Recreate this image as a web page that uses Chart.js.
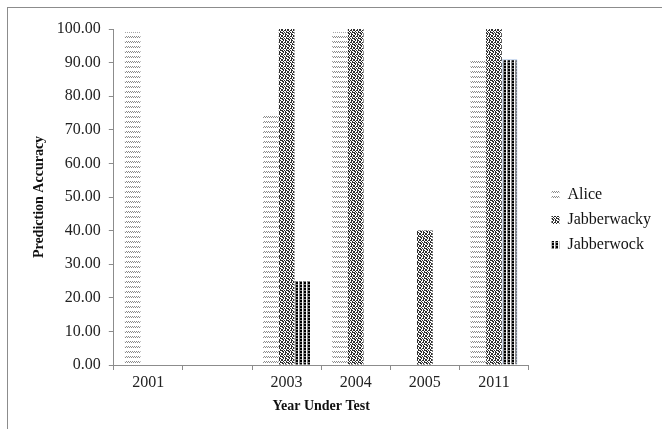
<!DOCTYPE html>
<html>
<head>
<meta charset="utf-8">
<script src="https://cdn.jsdelivr.net/npm/chart.js@4/dist/chart.umd.min.js"></script>
<style>
  html, body { margin: 0; padding: 0; background: #fff; }
  #moldura { position: absolute; left: 7px; top: 7px; width: 700px; height: 500px; border-left: 1px solid #8c8c8c; border-top: 1px solid #8c8c8c; }
  #caixa { position: absolute; left: 0; top: 0; width: 662px; height: 429px; }
</style>
</head>
<body>
<div id="moldura"></div>
<div id="caixa"><canvas id="grafico"></canvas></div>
<script>
// Dados (a segunda categoria fica vazia)
const anos = ['2001', '', '2003', '2004', '2005', '2011'];
const alice = [99, null, 75, 99, null, 91];
const jabberwacky = [null, null, 100, 100, 40, 100];
const jabberwock = [null, null, 25, null, null, 91];

const ctx = document.getElementById('grafico').getContext('2d');

// Monta um padrão de hachura a partir de linhas de texto
function padrao(linhas, cores) {
  const c = document.createElement('canvas');
  c.width = linhas[0].length;
  c.height = linhas.length;
  const g = c.getContext('2d');
  g.fillStyle = '#fff';
  g.fillRect(0, 0, c.width, c.height);
  linhas.forEach((linha, y) => {
    [...linha].forEach((ch, x) => {
      if (cores[ch]) {
        g.fillStyle = cores[ch];
        g.fillRect(x, y, 1, 1);
      }
    });
  });
  return ctx.createPattern(c, 'repeat');
}

const padraoAlice = padrao([
  '....',
  'x.x.',
  '.x.x',
  '....',
  '....'
], { x: '#8a8a8a' });

const padraoWacky = padrao([
  'x.xx.x',
  '.x..x.',
  'x.x.xx',
  'xx.x..',
  '.x.xx.',
  'x..x.x'
], { x: '#2e2e2e' });

const padraoWock = padrao([
  'kkwg',
  'kkwg',
  'ggwg'
], { k: '#000', g: '#8a8a8a', w: '#fff' });

// Empurra a legenda um pouco para a direita
const moverLegenda = {
  id: 'moverLegenda',
  afterLayout(chart) {
    const l = chart.legend;
    l.left += 14;
    l.right += 14;
    l.top -= 2;
    l.bottom -= 2;
  }
};

const fonte = 'Liberation Serif, Times New Roman, serif';

new Chart(ctx, {
  type: 'bar',
  data: {
    labels: anos,
    datasets: [
      { label: 'Alice', data: alice, backgroundColor: padraoAlice, borderWidth: 0 },
      { label: 'Jabberwacky', data: jabberwacky, backgroundColor: padraoWacky, borderWidth: 0 },
      {
        label: 'Jabberwock',
        data: jabberwock,
        backgroundColor: padraoWock,
        borderColor: '#a9c1e4',
        borderWidth: [0, 0, 0, 0, 0, 1]
      }
    ]
  },
  options: {
    responsive: true,
    maintainAspectRatio: false,
    animation: false,
    categoryPercentage: 0.68,
    barPercentage: 1,
    layout: { padding: { left: 27, top: 29, right: 15, bottom: 14 } },
    plugins: {
      legend: {
        position: 'right',
        fullSize: true,
        labels: {
          boxWidth: 8,
          boxHeight: 8,
          padding: 9,
          color: '#111',
          font: { family: fonte, size: 16 }
        }
      },
      tooltip: { enabled: false }
    },
    scales: {
      x: {
        grid: { drawOnChartArea: false, tickLength: 5, color: '#8c8c8c', offset: true },
        border: { color: '#8c8c8c' },
        ticks: { color: '#222', padding: 3, font: { family: fonte, size: 16 } },
        title: {
          display: true,
          text: 'Year Under Test',
          color: '#111',
          padding: { top: 3, bottom: 0 },
          font: { family: fonte, size: 14, weight: 'bold' }
        }
      },
      y: {
        min: 0,
        max: 100,
        grid: { drawOnChartArea: false, tickLength: 5, color: '#8c8c8c' },
        border: { color: '#8c8c8c' },
        ticks: {
          stepSize: 10,
          color: '#222',
          padding: 8,
          font: { family: fonte, size: 16 },
          callback: v => v.toFixed(2)
        },
        title: {
          display: true,
          text: 'Prediction Accuracy',
          color: '#111',
          padding: { top: 4, bottom: 1 },
          font: { family: fonte, size: 14, weight: 'bold' }
        }
      }
    }
  },
  plugins: [moverLegenda]
});
</script>
</body>
</html>
